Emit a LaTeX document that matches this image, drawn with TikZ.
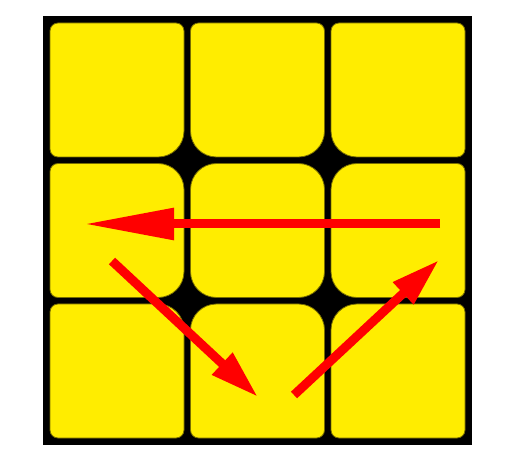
\documentclass[tikz,border=0pt]{standalone}
\usepackage{tikz}
\usetikzlibrary{arrows.meta}
\definecolor{cubeyellow}{RGB}{255,237,0}
\definecolor{cubeedge}{RGB}{120,110,0}
\definecolor{movered}{RGB}{255,0,0}

\tikzset{
facelet/.style={fill=cubeyellow,draw=cubeedge,line width=0.8pt},
move/.style={draw=movered,line width=9pt},
}

% one sticker: x, y, then radii top-left, top-right, bottom-right, bottom-left
\newcommand{\facelet}[6]{%
\filldraw[facelet]
(#1+#3,#2+134) -- (#1+134-#4,#2+134)
arc[start angle=90,end angle=0,radius=#4]
-- (#1+134,#2+#5)
arc[start angle=0,end angle=-90,radius=#5]
-- (#1+#6,#2)
arc[start angle=270,end angle=180,radius=#6]
-- (#1,#2+134-#3)
arc[start angle=180,end angle=90,radius=#3]
-- cycle;}

\begin{document}
\begin{tikzpicture}[x=1pt,y=1pt]

\useasboundingbox (0,0) rectangle (517,469);

% cube face
\fill[black] (43,24) rectangle (472,453);

\foreach \x/\y/\a/\b/\c/\d in {
50/312/8/8/26/8, 190.5/312/8/8/26/26, 331/312/8/8/8/26,
50/171.5/8/26/26/8, 190.5/171.5/26/26/26/26, 331/171.5/26/8/8/26,
50/31/8/26/8/8, 190.5/31/26/26/8/8, 331/31/26/8/8/8}
{\facelet{\x}{\y}{\a}{\b}{\c}{\d}}

% arrow ends
\coordinate (rightstart) at (440,245);
\coordinate (lefttip) at (84,245);
\coordinate (downstart) at (112,208);
\coordinate (downtip) at (258,72);
\coordinate (upstart) at (294,74);
\coordinate (uptip) at (439,209);

\draw[move,-{Triangle[length=90pt,width=30pt]}] (rightstart) -- (lefttip);
\draw[move,-{Triangle[length=49pt,width=28pt]}] (downstart) -- (downtip);
\draw[move,-{Triangle[length=49pt,width=28pt]}] (upstart) -- (uptip);

\end{tikzpicture}
\end{document}
